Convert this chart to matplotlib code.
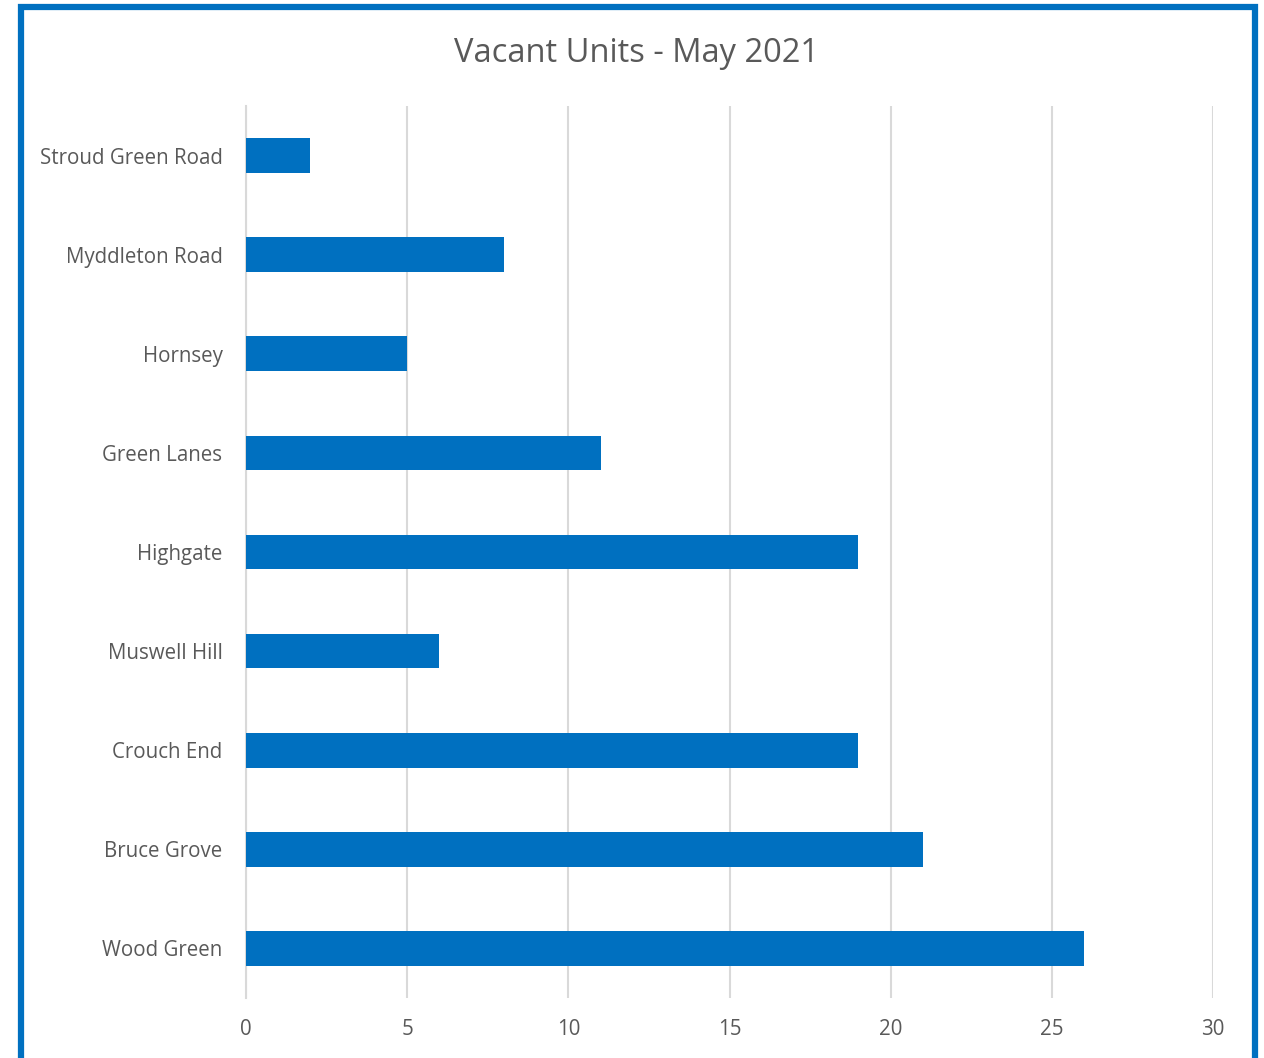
import matplotlib.pyplot as plt
from matplotlib.patches import Rectangle

plt.rcParams['font.family'] = ['Open Sans', 'DejaVu Sans']

areas = ['Stroud Green Road', 'Myddleton Road', 'Hornsey', 'Green Lanes', 'Highgate',
         'Muswell Hill', 'Crouch End', 'Bruce Grove', 'Wood Green']
vacant = [2, 8, 5, 11, 19, 6, 19, 21, 26]
xticks = [0, 5, 10, 15, 20, 25, 30]

fig = plt.figure(figsize=(12.64, 10.58), dpi=100)
ax = fig.add_axes([246 / 1264, 1 - 998 / 1058, (1213 - 246) / 1264, (998 - 106) / 1058])

pos = list(range(len(areas)))[::-1]
ax.barh(pos, vacant, height=0.35, color='#0070C0', zorder=3)

ax.set_xlim(0, 30)
ax.set_ylim(-0.5, len(areas) - 0.5)
ax.set_xticks(xticks)
ax.set_yticks(pos)
ax.set_yticklabels(areas)
ax.xaxis.grid(True, color='#d9d9d9', linewidth=1.5, zorder=0)
for s in ['top', 'right', 'bottom']:
    ax.spines[s].set_visible(False)
ax.spines['left'].set_color('#d9d9d9')
ax.spines['left'].set_linewidth(1.5)
ax.tick_params(axis='both', length=0, labelsize=14.8, colors='#595959')
ax.tick_params(axis='y', pad=17)
ax.tick_params(axis='x', pad=15)

fig.text(637 / 1264, 1 - 53 / 1058, 'Vacant Units - May 2021', ha='center', va='center',
         fontsize=23.5, color='#595959')

# blue outline around the chart area
fig.patches.append(Rectangle((21 / 1264, -0.05), (1255 - 21) / 1264, 1.05 - 7 / 1058,
                             transform=fig.transFigure, fill=False,
                             edgecolor='#0070C0', linewidth=4.5))

fig.savefig('out.png', dpi=100)
